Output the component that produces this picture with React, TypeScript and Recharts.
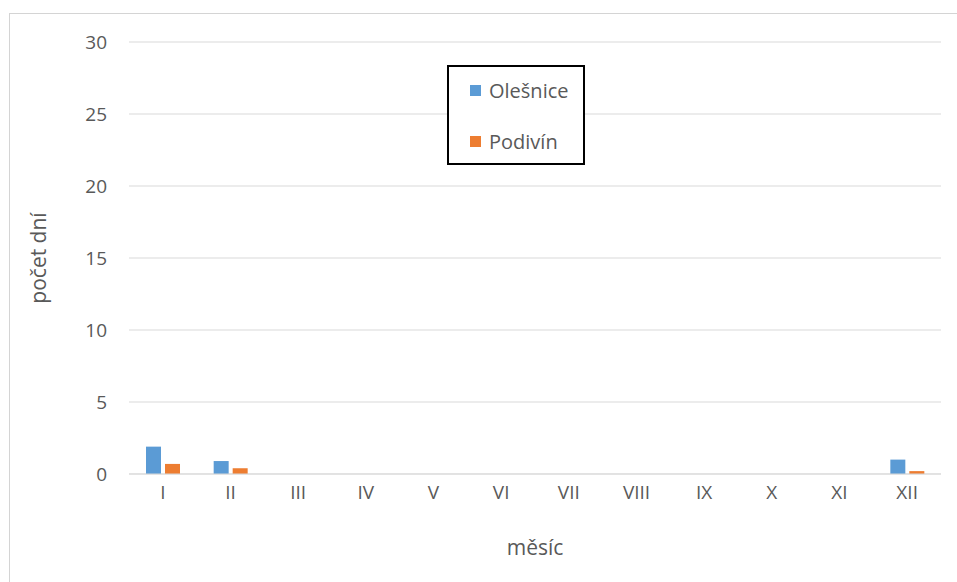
import { BarChart, Bar, XAxis, YAxis, CartesianGrid, Legend } from 'recharts';

const months = ['I', 'II', 'III', 'IV', 'V', 'VI', 'VII', 'VIII', 'IX', 'X', 'XI', 'XII'];
const olesnice = [1.9, 0.9, 0, 0, 0, 0, 0, 0, 0, 0, 0, 1.0];
const podivin = [0.7, 0.4, 0, 0, 0, 0, 0, 0, 0, 0, 0, 0.2];
const yTicks = [0, 5, 10, 15, 20, 25, 30];

const data = months.map((m, i) => ({ month: m, olesnice: olesnice[i], podivin: podivin[i] }));

const FONT = '"Open Sans", sans-serif';
const TEXT = '#595959';

function LegendBox({ payload }: any) {
  return (
    <div
      style={{
        position: 'relative',
        width: 134,
        height: 96,
        border: '2px solid #000',
        background: '#fff',
        fontFamily: FONT,
        fontSize: 20,
        color: TEXT,
      }}
    >
      {(payload || []).map((p: any, i: number) => (
        <div
          key={p.value}
          style={{
            position: 'absolute',
            left: 21,
            top: i === 0 ? 9 : 60,
            display: 'flex',
            alignItems: 'center',
            height: 28,
          }}
        >
          <span style={{ display: 'inline-block', width: 11, height: 11, background: p.color, marginRight: 8 }} />
          <span>{p.value}</span>
        </div>
      ))}
    </div>
  );
}

export default function App() {
  return (
    <div style={{ position: 'absolute', left: 0, top: 0, width: 957, height: 582, background: '#fff' }}>
      {/* outer frame, top and left edges only */}
      <div
        style={{
          position: 'absolute',
          left: 9,
          top: 13,
          width: 948,
          height: 569,
          borderTop: '1.5px solid #d4d4d4',
          borderLeft: '1.5px solid #d4d4d4',
        }}
      />
      <BarChart
        width={957}
        height={582}
        data={data}
        margin={{ top: 42, right: 16, bottom: 48, left: 0 }}
        barSize={15}
        barGap={4}
        style={{ position: 'absolute', left: 0, top: 0 }}
      >
        <CartesianGrid vertical={false} stroke="#d9d9d9" />
        <XAxis
          dataKey="month"
          height={60}
          tickLine={false}
          tickSize={0}
          tickMargin={12}
          axisLine={{ stroke: '#d9d9d9' }}
          tick={{ fill: TEXT, fontSize: 19, fontFamily: FONT }}
          label={{ value: 'měsíc', position: 'bottom', offset: 6, fill: TEXT, fontSize: 21, fontFamily: FONT }}
        />
        <YAxis
          width={129}
          domain={[0, 30]}
          ticks={yTicks}
          axisLine={false}
          tickLine={false}
          tickSize={0}
          tickMargin={22}
          tick={{ fill: TEXT, fontSize: 19, fontFamily: FONT }}
          label={{ value: 'počet dní', angle: -90, position: 'center', dx: -26, fill: TEXT, fontSize: 21, fontFamily: FONT }}
        />
        <Legend
          layout="vertical"
          align="center"
          verticalAlign="middle"
          content={<LegendBox />}
          wrapperStyle={{ position: 'absolute', left: 447, top: 65, width: 138, height: 100 }}
        />
        <Bar dataKey="olesnice" name="Olešnice" fill="#5b9bd5" isAnimationActive={false} />
        <Bar dataKey="podivin" name="Podivín" fill="#ed7d31" isAnimationActive={false} />
      </BarChart>
    </div>
  );
}
